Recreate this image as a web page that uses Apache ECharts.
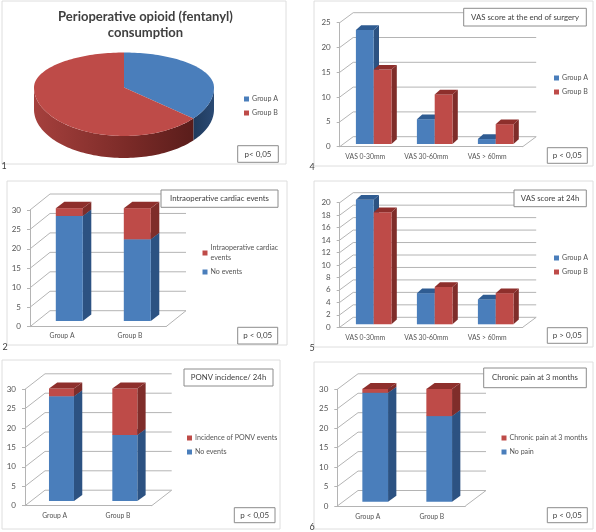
<!DOCTYPE html>
<html>
<head>
<meta charset="utf-8">
<style>
  html, body { margin: 0; padding: 0; background: #fff; }
  #chart { width: 596px; height: 532px; }
</style>
<script src="https://cdn.jsdelivr.net/npm/echarts@6/dist/echarts.min.js"></script>
</head>
<body>
<div id="chart"></div>
<script>
// values
const pieGroups = ['Group A', 'Group B']
const pieValues = [36, 64]

const vasCategories = ['VAS 0-30mm', 'VAS 30-60mm', 'VAS > 60mm']
const groupCategories = ['Group A', 'Group B']

const vasEndA = [23, 5, 1]
const vasEndB = [15, 10, 4]
const vas24A = [20, 5, 4]
const vas24B = [18, 6, 5]

const cardiacNone = [27, 21]
const cardiacEvents = [2, 8]
const ponvNone = [27, 17]
const ponvEvents = [2, 12]
const painNone = [28, 22]
const painEvents = [1, 7]

const BLUE = { front: '#4a7ebb', side: '#2c5282', top: '#2f5c92' }
const RED = { front: '#be4b48', side: '#7f2d2a', top: '#8e2f2c' }
const GREY_LINE = '#b4b4b4'
const TEXT = '#555'
const FONT = 'Lato'

const option = { animation: false, title: [], legend: [], grid: [], xAxis: [], yAxis: [], series: [], graphic: [] }

function addBox(x0, y0, x1, y1, text, fontSize) {
  option.graphic.push({
    type: 'rect', z: 20, silent: true,
    shape: { x: x0, y: y0, width: x1 - x0, height: y1 - y0 },
    style: { fill: '#fff', stroke: '#8c8c8c', lineWidth: 1 }
  })
  option.graphic.push({
    type: 'text', z: 21, silent: true, x: (x0 + x1) / 2, y: (y0 + y1) / 2,
    style: { text: text, fill: '#404040', font: fontSize + 'px ' + FONT, align: 'center', verticalAlign: 'middle' }
  })
}

function addFrame(x0, y0, x1, y1) {
  option.graphic.push({
    type: 'rect', z: 0, silent: true,
    shape: { x: x0, y: y0, width: x1 - x0, height: y1 - y0 },
    style: { fill: 'none', stroke: '#dedede', lineWidth: 1 }
  })
}

function addNumber(x, y, text) {
  option.graphic.push({
    type: 'text', z: 21, silent: true, x: x, y: y,
    style: { text: text, fill: '#404040', font: '9px ' + FONT, align: 'center', verticalAlign: 'middle' }
  })
}

function addLegend(x, y, names, gap, wrap) {
  option.legend.push({
    data: names, left: x, top: y, orient: 'vertical', padding: 0, itemGap: gap,
    itemWidth: 5, itemHeight: 5, icon: 'rect', selectedMode: false,
    formatter: name => (wrap && wrap[name]) || name,
    textStyle: { fontSize: 7.1, lineHeight: 10, color: TEXT, fontFamily: FONT, padding: [0, 0, 0, -2] }
  })
}

function barItem(params, api, l, colors, shift) {
  const cx = api.coord([api.value(0), 0])[0] + l.barDx + shift * l.barWidth
  const half = l.barWidth / 2
  const yBase = api.coord([0, api.value(1)])[1] + l.barDy
  const yTop = api.coord([0, api.value(2)])[1] + l.barDy
  const x0 = cx - half
  const x1 = cx + half
  return {
    type: 'group',
    children: [
      { type: 'polygon', shape: { points: [[x1, yBase], [x1 + l.sideDx, yBase + l.sideDy], [x1 + l.sideDx, yTop + l.sideDy], [x1, yTop]] }, style: { fill: colors.side } },
      { type: 'rect', shape: { x: x0, y: yTop, width: x1 - x0, height: yBase - yTop }, style: { fill: colors.front } },
      { type: 'polygon', shape: { points: [[x0, yTop], [x0 + l.sideDx, yTop + l.sideDy], [x1 + l.sideDx, yTop + l.sideDy], [x1, yTop]] }, style: { fill: colors.top } }
    ]
  }
}

function addBarPanel(l, categories, stacks) {
  const idx = option.grid.length
  option.grid.push({ left: l.left, top: l.top, width: l.width, height: l.height })
  option.xAxis.push({
    type: 'category', gridIndex: idx, data: categories,
    axisLine: { lineStyle: { color: GREY_LINE } },
    axisTick: { length: 2, lineStyle: { color: GREY_LINE } },
    axisLabel: { color: TEXT, fontSize: 6.8, fontFamily: FONT, margin: l.labelMargin, padding: [0, l.labelShift, 0, 0], interval: 0 }
  })
  option.yAxis.push({
    type: 'value', gridIndex: idx, min: 0, max: l.max, interval: l.interval,
    axisLine: { show: true, lineStyle: { color: GREY_LINE } },
    axisTick: { show: true, length: 3, lineStyle: { color: GREY_LINE } },
    axisLabel: { color: TEXT, fontSize: 8, fontFamily: FONT, margin: 9 },
    splitLine: { show: false }
  })

  // the back wall and floor of the 3D box
  const ticks = []
  for (let v = 0; v <= l.max; v += l.interval) ticks.push([0, v])
  option.series.push({
    type: 'custom', xAxisIndex: idx, yAxisIndex: idx, silent: true, z: 1,
    data: ticks, encode: { x: 0, y: 1 },
    renderItem(params, api) {
      const sys = params.coordSys
      const y = api.coord([0, api.value(1)])[1]
      const x0 = sys.x
      const x1 = sys.x + sys.width
      const pts = [[x0, y], [x0 + l.backDx, y + l.backDy], [x1 + l.backDx, y + l.backDy]]
      if (api.value(1) === 0) pts.push([x1, y])
      return { type: 'polyline', shape: { points: pts }, style: { fill: 'none', stroke: GREY_LINE, lineWidth: 1 } }
    }
  })

  // bars: each data row is [category, from, to]
  stacks.forEach(s => {
    option.series.push({
      type: 'custom', name: s.name, xAxisIndex: idx, yAxisIndex: idx, silent: true, z: 2,
      itemStyle: { color: s.colors.front },
      data: s.values.map((v, i) => [i, s.base ? s.base[i] : 0, (s.base ? s.base[i] : 0) + v]),
      encode: { x: 0, y: [1, 2] },
      renderItem(params, api) {
        return barItem(params, api, l, s.colors, s.shift || 0)
      }
    })
  })
}

// panel 1: the tilted pie
const PIE = { cx: 124, cy: 87.5, rx: 90, ryTop: 35, ryBottom: 48.5, depth: 22 }

function rimPoint(t) {
  const c = Math.cos(t)
  return [PIE.cx + PIE.rx * Math.sin(t), PIE.cy - (c > 0 ? PIE.ryTop : PIE.ryBottom) * c]
}

function arcPoints(a, b) {
  const pts = []
  const n = Math.max(2, Math.ceil((b - a) / 0.03))
  for (let i = 0; i <= n; i++) pts.push(rimPoint(a + (b - a) * i / n))
  return pts
}

function addPieSlice(name, value, startValue, total, colors, sideStops) {
  const a = startValue / total * Math.PI * 2
  const b = (startValue + value) / total * Math.PI * 2
  option.series.push({
    type: 'custom', name: name, coordinateSystem: 'none', silent: true, z: 2,
    itemStyle: { color: colors.front },
    data: [[value]],
    renderItem() {
      const children = []
      const sa = Math.max(a, Math.PI / 2)
      const sb = Math.min(b, Math.PI * 1.5)
      if (sb > sa) {
        const rim = arcPoints(sa, sb)
        const lower = rim.map(p => [p[0], p[1] + PIE.depth]).reverse()
        children.push({
          type: 'polygon', shape: { points: rim.concat(lower) },
          style: { fill: new echarts.graphic.LinearGradient(0, 0, 1, 0, sideStops) }
        })
      }
      children.push({
        type: 'polygon', shape: { points: [[PIE.cx, PIE.cy]].concat(arcPoints(a, b)) },
        style: { fill: colors.front }
      })
      return { type: 'group', children: children }
    }
  })
}

const pieTotal = pieValues[0] + pieValues[1]
addPieSlice(pieGroups[0], pieValues[0], 0, pieTotal, BLUE, [
  { offset: 0, color: '#1f3a5c' }, { offset: 1, color: '#2a4a74' }
])
addPieSlice(pieGroups[1], pieValues[1], pieValues[0], pieTotal, RED, [
  { offset: 0, color: '#a5403d' }, { offset: 0.6, color: '#7a2a27' }, { offset: 1, color: '#5a1d1b' }
])
option.graphic.push({
  type: 'text', z: 21, silent: true, x: 145.5, y: 25,
  style: {
    text: 'Perioperative opioid (fentanyl)\nconsumption', fill: '#404040',
    font: 'bold 13px ' + FONT, align: 'center', verticalAlign: 'middle', lineHeight: 16
  }
})
addLegend(244, 94, pieGroups, 4)
addBox(237.7, 145.7, 278.3, 162.3, 'p< 0,05', 8)
addFrame(2, 1, 286, 164)
addNumber(4, 166, '1')

// panel 4
addBarPanel({
  left: 339.7, top: 22.7, width: 183, height: 124, max: 25, interval: 5, labelMargin: 7,
  backDx: 13.5, backDy: -10, barDx: 3.5, barDy: -2.7, barWidth: 17.8, sideDx: 5.3, sideDy: -4.7, labelShift: 10
}, vasCategories, [
  { name: 'Group A', values: vasEndA, colors: BLUE, shift: -0.5 },
  { name: 'Group B', values: vasEndB, colors: RED, shift: 0.5 }
])
addLegend(554, 73, pieGroups, 4)
addBox(463.7, 8.3, 586.3, 26, 'VAS score at the end of surgery', 7.8)
addBox(547.3, 147.7, 587.3, 163.3, 'p < 0,05', 8)
addFrame(314, 1, 593, 166)
addNumber(312, 167, '4')

// panel 2
addBarPanel({
  left: 30, top: 210, width: 136, height: 116.7, max: 30, interval: 5, labelMargin: 6,
  backDx: 20, backDy: -16, barDx: 5.3, barDy: -5.7, barWidth: 27, sideDx: 8.5, sideDy: -6.5, labelShift: 4
}, groupCategories, [
  { name: 'No events', values: cardiacNone, colors: BLUE },
  { name: 'Intraoperative cardiac events', values: cardiacEvents, colors: RED, base: cardiacNone }
])
addLegend(202.5, 243, ['Intraoperative cardiac events', 'No events'], 4, {
  'Intraoperative cardiac events': 'Intraoperative cardiac\nevents'
})
addBox(161, 190, 278, 207.3, 'Intraoperative cardiac events', 7.8)
addBox(237.7, 327.3, 277.7, 344, 'p < 0,05', 8)
addFrame(7, 181, 287, 345)
addNumber(5, 347, '2')

// panel 5
addBarPanel({
  left: 339.7, top: 202.7, width: 183, height: 124.6, max: 20, interval: 2, labelMargin: 7,
  backDx: 13.5, backDy: -10, barDx: 3.5, barDy: -3, barWidth: 17.8, sideDx: 5.3, sideDy: -4.7, labelShift: 10
}, vasCategories, [
  { name: 'Group A', values: vas24A, colors: BLUE, shift: -0.5 },
  { name: 'Group B', values: vas24B, colors: RED, shift: 0.5 }
])
addLegend(554, 253, pieGroups, 4)
addBox(514, 190, 586.3, 206.7, 'VAS score at 24h', 7.8)
addBox(547.3, 327.7, 587.3, 343.3, 'p > 0,05', 8)
addFrame(314, 181, 593, 347)
addNumber(312, 348, '5')

// panel 3
addBarPanel({
  left: 25, top: 389.3, width: 126.7, height: 116.4, max: 30, interval: 5, labelMargin: 7,
  backDx: 20, backDy: -15.5, barDx: 4.8, barDy: -4.7, barWidth: 25, sideDx: 8.3, sideDy: -6, labelShift: 4
}, groupCategories, [
  { name: 'No events', values: ponvNone, colors: BLUE },
  { name: 'Incidence of PONV events', values: ponvEvents, colors: RED, base: ponvNone }
])
addLegend(187, 433, ['Incidence of PONV events', 'No events'], 4)
addBox(184, 369, 273, 386, 'PONV incidence/ 24h', 7.8)
addBox(234.3, 507.7, 275, 522.7, 'p < 0,05', 8)
addFrame(2, 360, 280, 529)

// panel 6
addBarPanel({
  left: 337.3, top: 389.3, width: 128, height: 116.7, max: 30, interval: 5, labelMargin: 7,
  backDx: 20.7, backDy: -15.5, barDx: 5.9, barDy: -4.3, barWidth: 25.7, sideDx: 8.3, sideDy: -6, labelShift: 3
}, groupCategories, [
  { name: 'No pain', values: painNone, colors: BLUE },
  { name: 'Chronic pain at 3 months', values: painEvents, colors: RED, base: painNone }
])
addLegend(501.5, 433, ['Chronic pain at 3 months', 'No pain'], 4)
addBox(483.7, 368, 586.3, 387.7, 'Chronic pain at 3 months', 7.8)
addBox(547.3, 507.7, 587.3, 522.7, 'p < 0,05', 8)
addFrame(314, 362, 593, 529)
addNumber(312, 527, '6')

const myChart = echarts.init(document.getElementById('chart'))
myChart.setOption(option)
</script>
</body>
</html>
